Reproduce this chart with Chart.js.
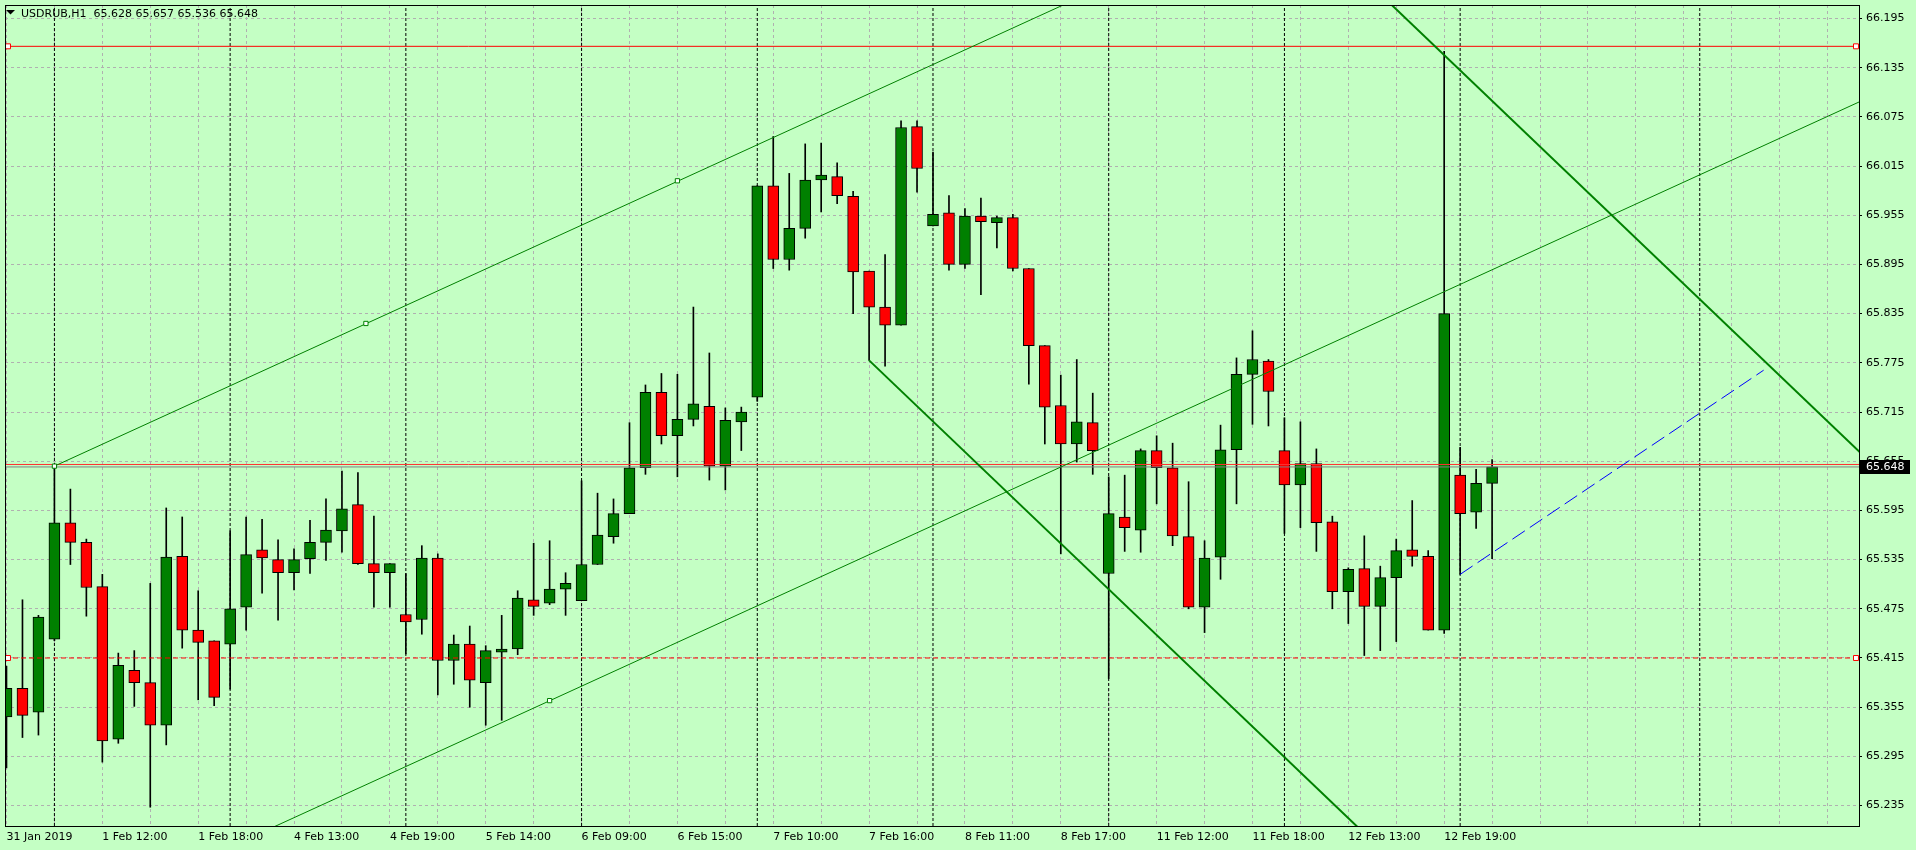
<!DOCTYPE html>
<html>
<head>
<meta charset="utf-8">
<script src="https://cdn.jsdelivr.net/npm/chart.js@4.4.1/dist/chart.umd.min.js"></script>
<style>
html,body{margin:0;padding:0;background:#C4FFC4;overflow:hidden}
canvas{display:block}
</style>
</head>
<body>
<canvas id="c" width="1916" height="850"></canvas>
<script>
// ---------- data ----------
const symbolName = 'USDRUB,H1';
const opens  = [65.343,65.378,65.349,65.438,65.580,65.556,65.502,65.316,65.400,65.385,
                65.333,65.539,65.449,65.436,65.432,65.477,65.547,65.535,65.519,65.536,
                65.556,65.570,65.602,65.530,65.519,65.468,65.462,65.537,65.412,65.432,
                65.385,65.422,65.426,65.486,65.482,65.499,65.485,65.529,65.563,65.591,
                65.647,65.739,65.686,65.706,65.722,65.649,65.703,65.733,65.991,65.901,
                65.939,65.998,66.002,65.978,65.887,65.843,65.821,66.063,65.942,65.958,
                65.895,65.954,65.946,65.952,65.890,65.796,65.723,65.676,65.702,65.518,
                65.587,65.571,65.668,65.647,65.563,65.477,65.538,65.669,65.761,65.777,
                65.668,65.626,65.652,65.581,65.496,65.524,65.478,65.513,65.547,65.539,
                65.449,65.638,65.593,65.628];
const highs  = [65.405,65.486,65.467,65.649,65.621,65.560,65.517,65.421,65.424,65.506,
                65.598,65.587,65.497,65.436,65.570,65.587,65.584,65.559,65.548,65.583,
                65.609,65.643,65.641,65.588,65.530,65.518,65.552,65.542,65.443,65.454,
                65.430,65.467,65.497,65.555,65.558,65.519,65.631,65.616,65.609,65.702,
                65.748,65.762,65.761,65.843,65.787,65.720,65.721,65.991,66.051,66.006,
                66.042,66.043,66.019,65.984,65.887,65.907,66.070,66.070,66.032,65.979,
                65.963,65.976,65.954,65.956,65.890,65.796,65.760,65.779,65.738,65.636,
                65.638,65.670,65.686,65.677,65.630,65.558,65.699,65.781,65.814,65.779,
                65.708,65.703,65.670,65.588,65.525,65.564,65.527,65.560,65.607,65.546,
                66.155,65.672,65.645,65.657];
const lows   = [65.281,65.318,65.321,65.436,65.529,65.466,65.288,65.311,65.356,65.233,
                65.309,65.427,65.364,65.357,65.377,65.449,65.494,65.461,65.498,65.518,
                65.534,65.544,65.529,65.477,65.477,65.420,65.444,65.370,65.383,65.355,
                65.333,65.339,65.419,65.467,65.480,65.467,65.485,65.529,65.555,65.591,
                65.639,65.676,65.636,65.698,65.632,65.620,65.668,65.728,65.890,65.888,
                65.927,65.959,65.969,65.835,65.778,65.771,65.821,65.983,65.942,65.888,
                65.890,65.858,65.915,65.887,65.749,65.676,65.542,65.654,65.639,65.390,
                65.545,65.544,65.603,65.552,65.475,65.446,65.511,65.603,65.700,65.698,
                65.567,65.574,65.545,65.475,65.457,65.418,65.424,65.435,65.527,65.449,
                65.445,65.517,65.573,65.536];
const closes = [65.378,65.345,65.465,65.580,65.556,65.501,65.314,65.406,65.385,65.333,
                65.538,65.449,65.434,65.367,65.475,65.541,65.537,65.519,65.535,65.556,
                65.571,65.597,65.530,65.519,65.530,65.459,65.537,65.412,65.432,65.388,
                65.424,65.426,65.488,65.478,65.499,65.506,65.529,65.565,65.591,65.647,
                65.739,65.686,65.706,65.725,65.649,65.705,65.715,65.991,65.901,65.939,
                65.998,66.004,65.979,65.886,65.843,65.821,66.062,66.012,65.956,65.895,
                65.954,65.947,65.952,65.890,65.796,65.721,65.676,65.703,65.668,65.591,
                65.574,65.668,65.647,65.564,65.477,65.537,65.669,65.761,65.779,65.740,
                65.626,65.652,65.580,65.496,65.523,65.478,65.513,65.546,65.539,65.449,
                65.835,65.591,65.628,65.648];

const timeLabels = ['31 Jan 2019','1 Feb 12:00','1 Feb 18:00','4 Feb 13:00','4 Feb 19:00',
                    '5 Feb 14:00','6 Feb 09:00','6 Feb 15:00','7 Feb 10:00','7 Feb 16:00',
                    '8 Feb 11:00','8 Feb 17:00','11 Feb 12:00','11 Feb 18:00','12 Feb 13:00',
                    '12 Feb 19:00'];
const labelBars  = [0,6,12,18,24,30,36,42,48,54,60,66,72,78,84,90];
const priceTicks = [65.235,65.295,65.355,65.415,65.475,65.535,65.595,65.655,65.715,
                    65.775,65.835,65.895,65.955,66.015,66.075,66.135,66.195];
const separators = [3,14,25,36,47,58,69,80,91,106];

// horizontal levels
const resistanceLevel = 66.161;
const supportLevel    = 65.415;
const markLevel       = 65.651;
const levelMarkerX    = [0.094, 115.78];

// trend lines (bar index, price)
const upperChannelX = [3, 120],  upperChannelY = [65.649, 66.691];
const lowerChannelX = [10, 120], lowerChannelY = [65.149, 66.129];
const anchorX = [3, 22.5, 42, 34], anchorY = [65.649, 65.823, 65.997, 65.363];
const fallAX = [54, 90],  fallAY = [65.778, 65.108];
const fallBX = [84, 120], fallBY = [66.262, 65.592];
const projX  = [91, 110], projY  = [65.517, 65.766];

// axis ranges
const xRange = [-0.09375, 115.96875];
const yRange = [65.2101, 66.2114];

// ---------- build ----------
const BG = '#C4FFC4';
const GREEN = '#008000', RED = '#FF0000';
const idx = opens.map((_, i) => i);
const pts = (xs, ys) => xs.map((x, i) => ({x, y: ys[i]}));
const hline = (v) => [{x: xRange[0], y: v}, {x: xRange[1], y: v}];

const sepData = [];
separators.forEach(k => { sepData.push({x:k, y:yRange[0]}, {x:k, y:yRange[1]}, {x:k, y:null}); });

const gridTicks = [];
for (let k = 0; k <= xRange[1]; k += 3) gridTicks.push(k);

const lineBase = {type:'line', pointRadius:0, borderWidth:1, tension:0, clip:0, fill:false, spanGaps:false};

const datasets = [
  Object.assign({}, lineBase, {label:'sep', data: sepData, borderColor:'#000', borderDash:[3,2], order:6}),
  {type:'bar', label:'wicks', data: idx.map(i => ({x:i, y:[lows[i], highs[i]]})),
   backgroundColor:'#000', borderWidth:0, barThickness:1, grouped:false, order:5},
  {type:'bar', label:'bodies', data: idx.map(i => ({x:i, y:[opens[i], closes[i]]})),
   backgroundColor: idx.map(i => closes[i] >= opens[i] ? GREEN : RED),
   borderColor:'#000', borderWidth:1, borderSkipped:false, barThickness:11, grouped:false, order:4},
  Object.assign({}, lineBase, {label:'res', data: hline(resistanceLevel), borderColor:RED, order:2}),
  Object.assign({}, lineBase, {label:'sup', data: hline(supportLevel), borderColor:RED, borderDash:[5,3], order:2}),
  Object.assign({}, lineBase, {label:'mark', data: hline(markLevel), borderColor:'#FF3030', order:2}),
  Object.assign({}, lineBase, {label:'bid', data: hline(closes[closes.length-1]), borderColor:'#808080', order:2}),
  Object.assign({}, lineBase, {label:'up', data: pts(upperChannelX, upperChannelY), borderColor:GREEN, order:1}),
  Object.assign({}, lineBase, {label:'lo', data: pts(lowerChannelX, lowerChannelY), borderColor:GREEN, order:1}),
  Object.assign({}, lineBase, {label:'fa', data: pts(fallAX, fallAY), borderColor:GREEN, borderWidth:2, order:1}),
  Object.assign({}, lineBase, {label:'fb', data: pts(fallBX, fallBY), borderColor:GREEN, borderWidth:2, order:1}),
  Object.assign({}, lineBase, {label:'proj', data: pts(projX, projY), borderColor:'#0000FF', borderDash:[15,6], order:1}),
  Object.assign({}, lineBase, {label:'anch', data: pts(anchorX, anchorY), showLine:false, pointRadius:3,
     pointStyle:'rect', pointBackgroundColor:'#FFFFFF', pointBorderColor:GREEN, pointBorderWidth:1, order:0}),
  Object.assign({}, lineBase, {label:'lvlm', data: pts(levelMarkerX.concat(levelMarkerX), [resistanceLevel,resistanceLevel,supportLevel,supportLevel]),
     showLine:false, pointRadius:3.5, pointStyle:'rect', pointBackgroundColor:'#FFFFFF', pointBorderColor:RED, pointBorderWidth:1, order:0})
];

const overlay = {
  id:'overlay',
  beforeDraw(chart){
    const c = chart.ctx; c.save(); c.fillStyle = BG; c.fillRect(0,0,chart.width,chart.height); c.restore();
  },
  afterDraw(chart){
    const c = chart.ctx, a = chart.chartArea, ys = chart.scales.y;
    c.save();
    // frame
    c.strokeStyle = '#000'; c.lineWidth = 1;
    c.strokeRect(a.left + 0.5, a.top + 0.5, a.right - a.left, a.bottom - a.top);
    // title
    c.fillStyle = '#000';
    c.beginPath(); c.moveTo(6,10); c.lineTo(15,10); c.lineTo(10.5,14.5); c.closePath(); c.fill();
    c.font = '11px "DejaVu Sans"'; c.textBaseline = 'alphabetic'; c.textAlign = 'left';
    const n = closes.length - 1;
    c.fillText(symbolName + '  ' + [opens[n],highs[n],lows[n],closes[n]].map(v => v.toFixed(3)).join(' '), 21, 17);
    // current price label
    const py = Math.round(ys.getPixelForValue(closes[n]));
    c.fillStyle = '#000'; c.fillRect(a.right + 1, py - 7, 50, 14);
    c.fillStyle = '#FFF'; c.textBaseline = 'middle';
    c.fillText(closes[n].toFixed(3), a.right + 7, py);
    c.restore();
  }
};

Chart.defaults.font.family = '"DejaVu Sans", Verdana, sans-serif';
Chart.defaults.font.size = 11;
Chart.defaults.color = '#000';

new Chart(document.getElementById('c'), {
  type: 'bar',
  data: { datasets },
  plugins: [overlay],
  options: {
    responsive: false, animation: false, devicePixelRatio: 1, events: [],
    layout: { padding: { left: 2, top: 2, right: 0, bottom: 0 } },
    plugins: { legend: {display:false}, tooltip: {enabled:false}, title: {display:false} },
    scales: {
      x: {
        type:'linear', position:'bottom', min:xRange[0], max:xRange[1], offset:false,
        afterFit: s => { s.height = 24; s.paddingLeft = 0; s.paddingRight = 0; },
        afterBuildTicks: s => { s.ticks = gridTicks.map(v => ({value:v})); },
        grid: { offset:false, color:'#B0B0B0', lineWidth:1, drawTicks:false },
        border: { display:false, dash:[3,3] },
        ticks: { autoSkip:false, maxRotation:0, minRotation:0, align:'start', padding:5,
                 callback: v => { const j = labelBars.indexOf(v); return j >= 0 ? timeLabels[j] : ''; } }
      },
      y: {
        type:'linear', position:'right', min:yRange[0], max:yRange[1], beginAtZero:false,
        afterFit: s => { s.width = 57; s.paddingTop = 0; s.paddingBottom = 0; },
        afterBuildTicks: s => { s.ticks = priceTicks.map(v => ({value:v})); },
        grid: { color:'#B0B0B0', lineWidth:1, drawTicks:true, tickLength:3, tickColor:'#000', tickWidth:1 },
        border: { display:false, dash:[3,3] },
        ticks: { autoSkip:false, padding:4, callback: v => Number(v).toFixed(3) }
      }
    }
  }
});
</script>
</body>
</html>
